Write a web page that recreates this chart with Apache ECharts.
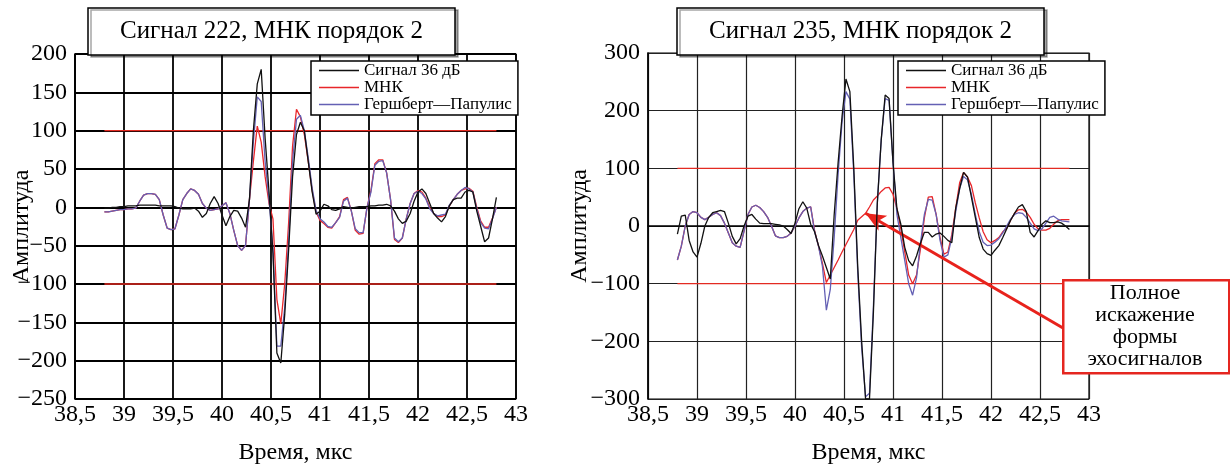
<!DOCTYPE html>
<html>
<head>
<meta charset="utf-8">
<script src="https://cdn.jsdelivr.net/npm/echarts@6/dist/echarts.min.js"></script>
<style>
  html, body { margin: 0; padding: 0; background: #fff; }
  #chart { width: 1230px; height: 470px; }
</style>
</head>
<body>
<div id="chart"></div>
<script>
// время отсчётов, мкс (шаг 0,04)
const time = [
  38.80, 38.84, 38.88, 38.92, 38.96, 39.00, 39.04, 39.08, 39.12, 39.16,
  39.20, 39.24, 39.28, 39.32, 39.36, 39.40, 39.44, 39.48, 39.52, 39.56,
  39.60, 39.64, 39.68, 39.72, 39.76, 39.80, 39.84, 39.88, 39.92, 39.96,
  40.00, 40.04, 40.08, 40.12, 40.16, 40.20, 40.24, 40.28, 40.32, 40.36,
  40.40, 40.44, 40.48, 40.52, 40.56, 40.60, 40.64, 40.68, 40.72, 40.76,
  40.80, 40.84, 40.88, 40.92, 40.96, 41.00, 41.04, 41.08, 41.12, 41.16,
  41.20, 41.24, 41.28, 41.32, 41.36, 41.40, 41.44, 41.48, 41.52, 41.56,
  41.60, 41.64, 41.68, 41.72, 41.76, 41.80, 41.84, 41.88, 41.92, 41.96,
  42.00, 42.04, 42.08, 42.12, 42.16, 42.20, 42.24, 42.28, 42.32, 42.36,
  42.40, 42.44, 42.48, 42.52, 42.56, 42.60, 42.64, 42.68, 42.72, 42.76,
  42.80,
]

// сигнал 222
const signal222 = [
  -1, -1, 0, 0, 1, 1, 2, 2, 2, 3,
  3, 3, 3, 3, 2, 2, 2, 2, 1, -1,
  -2, -2, -2, -1, -5, -13, -8, 5, 14, 5,
  -10, -24, -12, -4, -5, -14, -26, 10, 100, 161,
  180, 90, 20, -60, -190, -203, -140, -55, 40, 95,
  111, 100, 60, 20, -9, -5, 4, 2, -3, -4,
  -2, 1, 0, -1, 0, 1, 1, 1, 2, 2,
  3, 3, 4, 2, -5, -15, -21, -18, -8, 8,
  20, 24, 18, 5, -8, -14, -19, -12, 2, 10,
  12, 12, 20, 22, 20, -5, -25, -45, -40, -15,
  13,
]
const mnk222 = [
  -6, -6, -5, -4, -3, -3, -2, -2, -1, 8,
  16, 18, 18, 17, 10, -10, -27, -29, -28, -10,
  10, 18, 24, 22, 17, 5, -1, -4, -3, -2,
  2, 6, -8, -30, -50, -56, -50, 10, 60, 106,
  85, 40, 5, -15, -120, -152, -100, -20, 80, 128,
  118, 95, 60, 22, -6, -17, -21, -26, -27, -20,
  -12, 10, 13, -5, -30, -35, -34, 0, 22, 57,
  62, 62, 45, 10, -42, -46, -40, -15, 5, 18,
  22, 20, 12, 0, -8, -12, -12, -10, 2, 10,
  17, 22, 24, 25, 21, 0, -18, -26, -26, -14,
  0,
]
const gp222 = [
  -6, -6, -5, -4, -3, -3, -2, -2, -1, 8,
  16, 18, 18, 17, 10, -10, -27, -29, -28, -10,
  10, 18, 24, 22, 17, 5, -1, -4, -3, -2,
  2, 6, -8, -30, -50, -56, -50, 10, 85, 144,
  138, 60, 10, -55, -181, -181, -130, -45, 60, 115,
  120, 100, 65, 25, -4, -15, -19, -25, -26, -20,
  -13, 8, 12, -5, -28, -33, -33, 0, 20, 55,
  60, 61, 45, 10, -40, -45, -40, -15, 5, 18,
  21, 18, 11, -2, -8, -11, -10, -9, 3, 10,
  17, 22, 26, 24, 20, -2, -20, -27, -28, -15,
  0,
]

// сигнал 235
const signal235 = [
  -14, 17, 19, -25, -45, -54, -30, 0, 15, 23,
  25, 27, 25, 5, -18, -31, -22, 0, 17, 20,
  12, 5, 4, 4, 4, 3, 2, 0, -6, -13,
  5, 30, 42, 31, 3, -10, -34, -52, -72, -92,
  20, 110, 190, 255, 233, 100, -70, -200, -300, -300,
  -150, 40, 150, 227, 221, 110, 30, 3, -37, -60,
  -69, -52, -30, -11, -11, -19, -14, -12, -18, -25,
  -29, 31, 65, 93, 85, 50, 15, -20, -40, -48,
  -51, -42, -34, -20, -5, 10, 22, 33, 37, 25,
  -11, -19, -8, 3, 9, 6, 6, 7, 5, 0,
  -6,
]
const mnk235 = [
  -59, -35, 0, 20, 25, 23, 15, 11, 15, 20,
  23, 18, 5, -12, -29, -35, -37, -9, 20, 33,
  36, 32, 25, 15, 0, -17, -20, -20, -18, -12,
  0, 14, 25, 31, 33, -8, -35, -65, -98, -85,
  -72, -59, -45, -32, -19, -6, 10, 16, 22, 33,
  45, 52, 60, 66, 67, 55, 30, -5, -45, -85,
  -100, -85, -40, 14, 50, 51, 20, -20, -49, -45,
  -15, 31, 75, 93, 85, 70, 40, 14, -10, -24,
  -29, -25, -20, -10, -4, 10, 22, 28, 29, 24,
  15, 3, -5, -7, -7, -4, 3, 9, 11, 11,
  11,
]
const gp235 = [
  -59, -35, 0, 20, 25, 23, 15, 11, 15, 20,
  23, 18, 5, -12, -29, -35, -37, -9, 20, 33,
  36, 32, 25, 15, 0, -17, -20, -20, -18, -12,
  0, 14, 25, 31, 33, -10, -35, -70, -146, -110,
  -20, 90, 180, 233, 220, 90, -80, -210, -296, -290,
  -140, 40, 150, 221, 218, 110, 20, -20, -60, -100,
  -120, -90, -30, 20, 46, 45, 20, -25, -54, -50,
  -20, 25, 65, 86, 80, 55, 20, -10, -28, -34,
  -33, -28, -22, -12, 0, 12, 20, 23, 22, 15,
  5, -5, -8, -5, 5, 15, 17, 12, 9, 8,
  7,
]

const levels = [100, -100]
const arrowIndex = 48
const names = ['Сигнал 36 дБ', 'МНК', 'Гершберт—Папулис']
const colors = { sig: '#111111', mnk: '#e8262a', gp: '#6460b4' }

const serif = 'Liberation Serif'
const pairs = arr => time.map((t, i) => [t, arr[i]])

function axesFor(i, yMin, yMax, yStep, gridColor, gridWidth, yGap) {
  return {
    x: {
      type: 'value', gridIndex: i, min: 38.5, max: 43, interval: 0.5,
      name: 'Время, мкс', nameLocation: 'middle', nameGap: 42, nameMoveOverlap: false,
      nameTextStyle: { fontFamily: serif, fontSize: 24, color: '#000' },
      axisLine: { lineStyle: { color: '#000', width: 1.5 } },
      axisTick: { show: false },
      axisLabel: {
        margin: 4, fontFamily: serif, fontSize: 24, color: '#000',
        formatter: v => String(v).replace('.', ','),
      },
      splitLine: { show: true, lineStyle: { color: gridColor, width: gridWidth } },
    },
    y: {
      type: 'value', gridIndex: i, min: yMin, max: yMax, interval: yStep,
      name: 'Амплитуда', nameLocation: 'middle', nameRotate: 90, nameGap: yGap, nameMoveOverlap: false,
      nameTextStyle: { fontFamily: serif, fontSize: 24, color: '#000' },
      axisLine: { show: true, lineStyle: { color: '#000', width: 1.5 } },
      axisTick: { show: false },
      axisLabel: {
        margin: 8, fontFamily: serif, fontSize: 24, color: '#000',
        formatter: v => (v < 0 ? '\u2212' + Math.abs(v) : String(v)),
      },
      splitLine: { show: true, lineStyle: { color: gridColor, width: gridWidth } },
    },
  }
}

function seriesFor(i, sig, mnk, gp, arrow) {
  const line = (name, data, color, z) => ({
    name, type: 'line', xAxisIndex: i, yAxisIndex: i, data: pairs(data),
    symbol: 'none', z,
    lineStyle: { color, width: 1.3 },
    itemStyle: { color },
  })
  const list = levels.map(lv => ({
    type: 'line', xAxisIndex: i, yAxisIndex: i, symbol: 'none', z: 2,
    data: [[time[0], lv], [time[time.length - 1], lv]],
    lineStyle: { color: '#e32b22', width: 1.4 },
  }))
  const red = line(names[1], mnk, colors.mnk, 3)
  if (arrow) {
    red.markLine = {
      silent: true,
      symbol: ['arrow', 'none'],
      symbolSize: [13, 20],
      label: { show: false },
      lineStyle: { color: '#e8221c', width: 3, type: 'solid' },
      data: [[
        { coord: [time[arrowIndex], mnk[arrowIndex]] },
        { x: 1063, y: 328 },
      ]],
    }
  }
  list.push(red)
  list.push(line(names[2], gp, colors.gp, 4))
  list.push(line(names[0], sig, colors.sig, 5))
  return list
}

const a0 = axesFor(0, -250, 200, 50, '#000', 1.8, 41)
const a1 = axesFor(1, -300, 300, 100, '#222', 1.2, 56)

const titleBox = (text, left) => ({
  text, left, top: 8,
  padding: [11, 32],
  backgroundColor: '#fff',
  borderColor: '#000', borderWidth: 1.5,
  shadowColor: 'rgba(0,0,0,0.35)', shadowOffsetX: 3, shadowOffsetY: 2,
  textStyle: { fontFamily: serif, fontSize: 25, fontWeight: 'normal', color: '#000' },
})

const legendBox = left => ({
  data: names, left, top: 61, orient: 'vertical',
  backgroundColor: '#fff', borderColor: '#000', borderWidth: 1.5,
  padding: [1, 6, 2, 8], itemGap: 0, itemWidth: 40, itemHeight: 1.6,
  icon: 'rect',
  textStyle: { fontFamily: serif, fontSize: 17, color: '#000', lineHeight: 17 },
})

const chart = echarts.init(document.getElementById('chart'))
chart.setOption({
  animation: false,
  backgroundColor: '#fff',
  title: [titleBox('Сигнал 222, МНК порядок 2', 88), titleBox('Сигнал 235, МНК порядок 2', 677)],
  legend: [legendBox(311), legendBox(898)],
  grid: [
    { left: 75, top: 54, width: 441, height: 348, show: true, borderColor: '#000', borderWidth: 1.2 },
    { left: 648, top: 53, width: 441, height: 349, show: true, borderColor: '#000', borderWidth: 1.2 },
  ],
  xAxis: [a0.x, a1.x],
  yAxis: [a0.y, a1.y],
  series: [...seriesFor(0, signal222, mnk222, gp222, false), ...seriesFor(1, signal235, mnk235, gp235, true)],
  graphic: [
    {
      type: 'rect', left: 1062, top: 279, z: 100,
      shape: { width: 166, height: 93 },
      style: { fill: '#fff', stroke: '#e52620', lineWidth: 2.5 },
    },
    {
      type: 'text', x: 1145, y: 326, z: 101,
      style: {
        text: 'Полное\nискажение\nформы\nэхосигналов',
        font: '22px "Liberation Serif"', fill: '#000',
        textAlign: 'center', textVerticalAlign: 'middle', lineHeight: 22,
      },
    },
  ],
})
</script>
</body>
</html>
